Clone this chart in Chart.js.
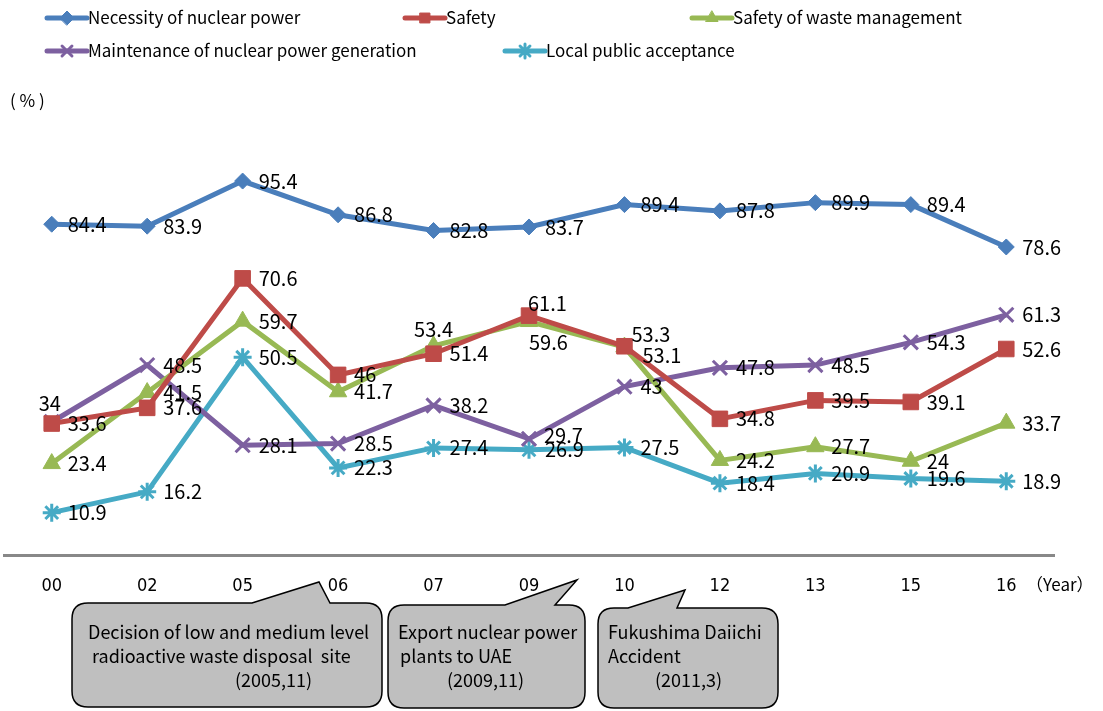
<!DOCTYPE html>
<html>
<head>
<meta charset="utf-8">
<script src="https://cdn.jsdelivr.net/npm/chart.js@4.4.0/dist/chart.umd.min.js"></script>
<style>
  html, body { margin: 0; padding: 0; background: #fff; }
  #wrap { width: 1103px; height: 711px; position: relative; }
</style>
</head>
<body>
<div id="wrap"><canvas id="myChart" width="1103" height="711"></canvas></div>
<script>
const years = ['00', '02', '05', '06', '07', '09', '10', '12', '13', '15', '16'];
const necessity = [84.4, 83.9, 95.4, 86.8, 82.8, 83.7, 89.4, 87.8, 89.9, 89.4, 78.6];
const safety = [33.6, 37.6, 70.6, 46, 51.4, 61.1, 53.3, 34.8, 39.5, 39.1, 52.6];
const wasteSafety = [23.4, 41.5, 59.7, 41.7, 53.4, 59.6, 53.1, 24.2, 27.7, 24, 33.7];
const maintenance = [34, 48.5, 28.1, 28.5, 38.2, 29.7, 43, 47.8, 48.5, 54.3, 61.3];
const localAccept = [10.9, 16.2, 50.5, 22.3, 27.4, 26.9, 27.5, 18.4, 20.9, 19.6, 18.9];

const seriesNames = [
    'Necessity of nuclear power',
    'Safety',
    'Safety of waste management',
    'Maintenance of nuclear power generation',
    'Local public acceptance'
];

const labelFont = '20px "Noto Sans CJK JP", "Noto Sans", sans-serif';
const textFont = '17px "Noto Sans CJK JP", "Noto Sans", sans-serif';
const noteFont = '18px "Noto Sans CJK JP", "Noto Sans", sans-serif';

// label nudges where the default "right of point" spot would collide
// key: dataset index + ':' + point index  ->  [dx, dy, align]
const labelNudge = {
    '3:0': [-2, -19, 'center'],
    '2:4': [0, -16, 'center'],
    '1:5': [-1, -12, 'left'],
    '2:5': [0, 21, 'left'],
    '1:6': [7, -12, 'left'],
    '2:6': [18, 8, 'left'],
    '3:5': [15, -3, 'left']
};

function makeSet(name, values, color, style, radius, bw) {
    return {
        label: name,
        data: values,
        borderColor: color,
        backgroundColor: color,
        borderWidth: 5,
        tension: 0,
        pointStyle: style,
        pointRadius: radius,
        pointHoverRadius: radius,
        pointBorderColor: color,
        pointBackgroundColor: color,
        pointBorderWidth: bw
    };
}

const valueLabels = {
    id: 'valueLabels',
    afterDatasetsDraw(chart) {
        const ctx = chart.ctx;
        ctx.save();
        ctx.font = labelFont;
        ctx.fillStyle = '#000';
        ctx.textBaseline = 'middle';
        chart.data.datasets.forEach((ds, di) => {
            const meta = chart.getDatasetMeta(di);
            meta.data.forEach((pt, i) => {
                const nudge = labelNudge[di + ':' + i] || [16, 0, 'left'];
                ctx.textAlign = nudge[2];
                ctx.fillText(String(ds.data[i]), pt.x + nudge[0], pt.y + nudge[1]);
            });
        });
        ctx.restore();
    }
};

const extras = {
    id: 'extras',
    afterDraw(chart) {
        const ctx = chart.ctx;
        const ds = chart.data.datasets;
        ctx.save();

        // legend, two rows
        const legendPos = [[47, 18], [405, 18], [692, 18], [47, 51], [505, 51]];
        ds.forEach((d, i) => {
            const [lx, ly] = legendPos[i];
            ctx.strokeStyle = d.borderColor;
            ctx.fillStyle = d.borderColor;
            ctx.lineWidth = 5;
            ctx.lineCap = 'round';
            ctx.beginPath();
            ctx.moveTo(lx, ly);
            ctx.lineTo(lx + 40, ly);
            ctx.stroke();
            ctx.lineWidth = d.pointBorderWidth;
            Chart.helpers.drawPoint(ctx, {
                pointStyle: d.pointStyle, radius: 7, rotation: 0, borderWidth: d.pointBorderWidth
            }, lx + 20, ly);
            ctx.fillStyle = '#000';
            ctx.font = textFont;
            ctx.textAlign = 'left';
            ctx.textBaseline = 'middle';
            ctx.fillText(d.label, lx + 41, ly);
        });

        // unit labels
        ctx.fillStyle = '#000';
        ctx.font = textFont;
        ctx.textBaseline = 'middle';
        ctx.fillText('( % )', 10, 101);
        ctx.fillText('（Year）', 1026, 585);

        // event callouts under the axis
        const callouts = [
            { box: [72, 603, 382, 707], tip: [252, 330, 319, 582],
              lines: [['Decision of low and medium level', 88], ['radioactive waste disposal  site', 92], ['(2005,11)', 235]] },
            { box: [388, 605, 585, 708], tip: [505, 555, 577, 580],
              lines: [['Export nuclear power', 398], ['plants to UAE', 400], ['(2009,11)', 447]] },
            { box: [598, 608, 778, 708], tip: [628, 677, 685, 590],
              lines: [['Fukushima Daiichi', 608], ['Accident', 608], ['(2011,3)', 655]] }
        ];
        callouts.forEach(c => {
            const [x1, y1, x2, y2] = c.box;
            const [b1, b2, tx, ty] = c.tip;
            const r = 16;
            ctx.beginPath();
            ctx.moveTo(x1 + r, y1);
            ctx.lineTo(b1, y1);
            ctx.lineTo(tx, ty);
            ctx.lineTo(b2, y1);
            ctx.lineTo(x2 - r, y1);
            ctx.quadraticCurveTo(x2, y1, x2, y1 + r);
            ctx.lineTo(x2, y2 - r);
            ctx.quadraticCurveTo(x2, y2, x2 - r, y2);
            ctx.lineTo(x1 + r, y2);
            ctx.quadraticCurveTo(x1, y2, x1, y2 - r);
            ctx.lineTo(x1, y1 + r);
            ctx.quadraticCurveTo(x1, y1, x1 + r, y1);
            ctx.closePath();
            ctx.fillStyle = '#BFBFBF';
            ctx.fill();
            ctx.strokeStyle = '#000';
            ctx.lineWidth = 1.5;
            ctx.lineCap = 'butt';
            ctx.stroke();
            ctx.fillStyle = '#000';
            ctx.font = noteFont;
            ctx.textAlign = 'left';
            c.lines.forEach((ln, k) => {
                ctx.fillText(ln[0], ln[1], 632 + k * 24);
            });
        });
        ctx.restore();
    }
};

const dataChart = new Chart(document.getElementById('myChart'), {
    type: 'line',
    data: {
        labels: years,
        datasets: [
            makeSet(seriesNames[0], necessity, '#4A7EBB', 'rectRot', 8, 1),
            makeSet(seriesNames[1], safety, '#BE4B48', 'rect', 11, 1),
            makeSet(seriesNames[2], wasteSafety, '#98B954', 'triangle', 10, 1),
            makeSet(seriesNames[3], maintenance, '#7D60A0', 'crossRot', 10, 3),
            makeSet(seriesNames[4], localAccept, '#46AAC5', 'star', 9, 3)
        ]
    },
    options: {
        responsive: false,
        animation: false,
        layout: { autoPadding: false, padding: { left: 4, right: 49, top: 163, bottom: 102 } },
        plugins: {
            legend: { display: false },
            tooltip: { enabled: false }
        },
        scales: {
            x: {
                offset: true,
                grid: { display: false },
                border: { display: true, color: '#888888', width: 3 },
                ticks: {
                    color: '#000',
                    padding: 12,
                    font: { family: '"DejaVu Sans Condensed", "Liberation Sans Narrow", sans-serif', size: 18 }
                }
            },
            y: {
                display: false,
                min: 0,
                max: 100
            }
        }
    },
    plugins: [valueLabels, extras]
});
</script>
</body>
</html>
